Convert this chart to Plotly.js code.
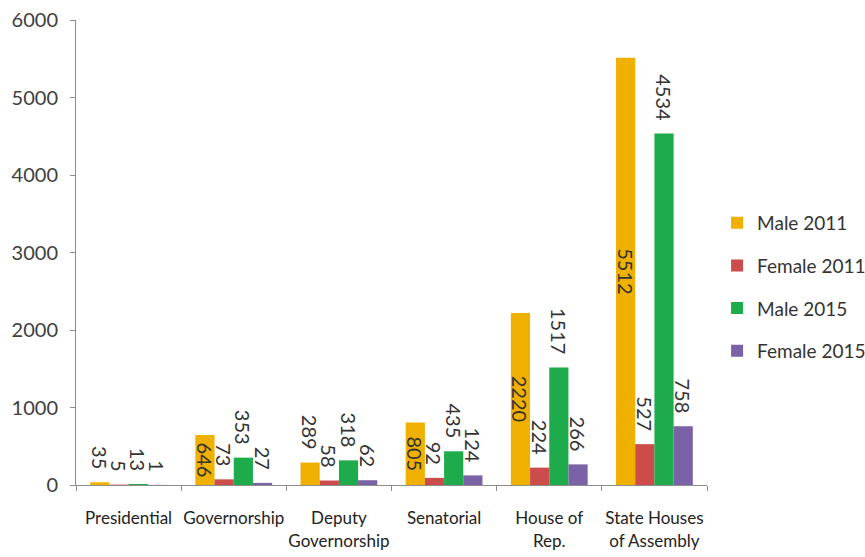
<!DOCTYPE html>
<html>
<head>
<meta charset="utf-8">
<script src="https://cdn.plot.ly/plotly-3.0.1.min.js"></script>
<style>html,body{margin:0;padding:0;background:#fff;}#chart{width:865px;height:557px;}</style>
</head>
<body>
<div id="chart"></div>
<script>
const categories = ["Presidential", "Governorship", "Deputy<br>Governorship", "Senatorial", "House of<br>Rep.", "State Houses<br>of Assembly"];
const male2011 = [35, 646, 289, 805, 2220, 5512];
const female2011 = [5, 73, 58, 92, 224, 527];
const male2015 = [13, 353, 318, 435, 1517, 4534];
const female2015 = [1, 27, 62, 124, 266, 758];
const seriesNames = ["Male 2011", "Female 2011", "Male 2015", "Female 2015"];
const seriesColors = ["#F0B000", "#CC4B4B", "#1EAB4B", "#7A62A6"];
const yTicks = [0, 1000, 2000, 3000, 4000, 5000, 6000];
// label placement per point for the Male 2011 series (centred in bar unless the bar is too short)
const male2011LabelPos = ["outside", "inside", "outside", "inside", "inside", "inside"];

const labelFont = {family: "Lato, 'Open Sans', sans-serif", size: 20, color: "#333333"};
const allSeries = [male2011, female2011, male2015, female2015];
const traces = allSeries.map((vals, i) => {
  const pos = i === 0 ? male2011LabelPos : vals.map(() => "outside");
  return {
    type: "bar",
    name: seriesNames[i],
    x: categories,
    y: vals,
    marker: {color: seriesColors[i], line: {width: 0}},
    text: vals.map((v, k) => pos[k] === "outside" ? String(v) + "\u2002" : String(v)),
    textposition: pos,
    insidetextanchor: "middle",
    textangle: 90,
    constraintext: "none",
    cliponaxis: false,
    insidetextfont: labelFont,
    outsidetextfont: labelFont,
    legendgroup: "g" + i,
    hoverinfo: "skip"
  };
});

const layout = {
  width: 865, height: 557,
  margin: {l: 76, r: 158, t: 20, b: 72},
  paper_bgcolor: "#ffffff",
  plot_bgcolor: "#ffffff",
  barmode: "group",
  bargap: 0.27,
  bargroupgap: 0,
  font: {family: "Lato, 'Open Sans', sans-serif", color: "#333333"},
  xaxis: {
    type: "category",
    showline: true, linecolor: "#8c8c8c", linewidth: 1,
    ticks: "outside", tickson: "boundaries", ticklen: 5, tickcolor: "#8c8c8c",
    tickangle: 0,
    ticklabelstandoff: 18,
    tickfont: {size: 17, color: "#222222"},
    showgrid: false, zeroline: false, fixedrange: true, automargin: false
  },
  yaxis: {
    range: [0, 6000],
    tickvals: yTicks,
    showline: true, linecolor: "#8c8c8c", linewidth: 1,
    ticks: "outside", ticklen: 5, tickcolor: "#8c8c8c",
    ticklabelstandoff: 8,
    tickfont: {size: 20, color: "#404040"},
    showgrid: false, zeroline: false, fixedrange: true, automargin: false
  },
  showlegend: true,
  legend: {
    xref: "container", yref: "container",
    x: 0.829, xanchor: "left", y: 0.485, yanchor: "middle",
    traceorder: "grouped", tracegroupgap: 15,
    font: {size: 19, color: "#333333"},
    bgcolor: "rgba(0,0,0,0)"
  }
};

Plotly.newPlot("chart", traces, layout, {displayModeBar: false, staticPlot: true});
</script>
</body>
</html>
